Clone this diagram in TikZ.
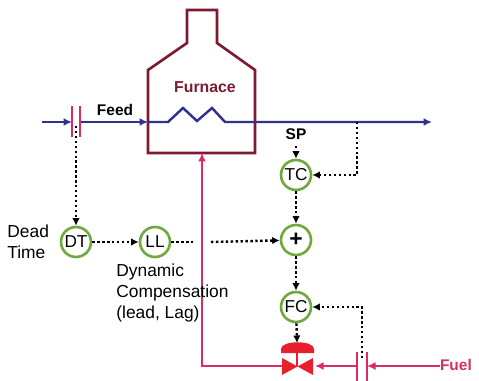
\documentclass[tikz,border=0pt]{standalone}
\usepackage{fontspec}
\setmainfont{Liberation Sans}
\usetikzlibrary{arrows.meta}
\definecolor{feedblue}{HTML}{2E3192}
\definecolor{fuelpink}{HTML}{DC2A66}
\definecolor{valvered}{HTML}{E8202E}
\definecolor{furnacered}{HTML}{7E1A30}
\definecolor{ctrlgreen}{HTML}{72A840}
\def\feedy{122}
\def\fuely{366}
\tikzset{
  ctrl/.style={circle, draw=ctrlgreen, line width=1.5pt, minimum size=0.6cm, inner sep=0pt,
    font=\fontsize{9.8}{11}\selectfont},
  signal/.style={dash pattern=on 1.4pt off 1.4pt, line width=1.4pt, -{Latex[length=1.5mm,width=1.5mm]}},
  feed/.style={feedblue, line width=1.4pt},
  fuel/.style={fuelpink, line width=1.4pt},
  tip/.style={-{Latex[length=1.7mm,width=1.6mm]}},
  plate/.style={fuelpink, line width=1.1pt},
  lbl/.style={font=\bfseries\fontsize{8.8}{10}\selectfont},
  txt/.style={font=\fontsize{9.9}{11.9}\selectfont, align=left, inner sep=0pt}
}
\begin{document}
\begin{tikzpicture}[x=0.02cm, y=-0.02cm]
\useasboundingbox (0,0) rectangle (479,381);

% Furnace
\draw[furnacered, line width=1.5pt] (148,153) -- (148,70) -- (187,43) -- (187,10) -- (217,10)
  -- (217,43) -- (255,70) -- (255,153) -- cycle;
\node[lbl, text=furnacered, font=\bfseries\fontsize{9}{10}\selectfont] (furnace) at (205,87) {Furnace};

% Controllers
\node[ctrl] (TC) at (296,175) {TC};
\node[ctrl, font=\bfseries\fontsize{13}{13}\selectfont] (SUM) at (296,240) {+};
\node[ctrl] (FC) at (296,307) {FC};
\node[ctrl] (DT) at (76,242) {DT};
\node[ctrl] (LL) at (155,242) {LL};

% Control valve
\coordinate (valve) at (297,\fuely);
\coordinate (actuator) at (297,343);
\fill[valvered] (282,358) -- (282,375) -- (313,358) -- (313,375) -- cycle;
\draw[valvered, line width=1.5pt] (valve) -- (297,352);
\fill[valvered] (281,353) -- (281,349) .. controls (281,340) and (314,340) .. (314,349) -- (314,353) -- cycle;

% Feed line
\coordinate (feedin) at (42,\feedy);
\coordinate (orifA) at (72,\feedy);
\coordinate (orifB) at (80,\feedy);
\coordinate (coilin) at (148,\feedy);
\coordinate (feedout) at (432,\feedy);
\draw[feed, tip] (feedin) -- (orifA);
\draw[feed, tip] (orifB) -- (coilin);
\draw[feed, tip] (coilin) -- (168,\feedy) -- (183,108) -- (197,121) -- (212,108) -- (225,\feedy) -- (feedout);
\foreach \px in {72,80} {
    \draw[plate] (\px,106) -- (\px,137); % orifice plate
}
\node[lbl] (feed) at (115,110) {Feed};

% Fuel line
\coordinate (fuelin) at (440,\fuely);
\coordinate (orifC) at (367,\fuely);
\coordinate (orifD) at (357,\fuely);
\coordinate (valveR) at (315,\fuely);
\coordinate (valveL) at (282,\fuely);
\coordinate (fuelcorner) at (202,\fuely);
\coordinate (burner) at (202,153);
\draw[fuel, tip] (fuelin) -- (orifC);
\draw[fuel, tip] (orifD) -- (valveR);
\draw[fuel, tip] (valveL) -- (fuelcorner) -- (burner);
\foreach \px in {357,367} {
    \draw[plate] (\px,352) -- (\px,381); % orifice plate
}
\node[lbl, text=fuelpink, anchor=east] (fuel) at (478,365) {Fuel};

% Signals
\coordinate (FTfeed) at (76,126);
\coordinate (TT) at (357,\feedy);
\coordinate (FTfuel) at (362,358);
\coordinate (gapL) at (193,242);
\coordinate (gapR) at (211,242);
\node[lbl] (SP) at (296,134) {SP};
\draw[signal] (SP) -- (TC);
\draw[signal] (TT) |- (TC);
\draw[signal] (TC) -- (SUM);
\draw[signal] (SUM) -- (FC);
\draw[signal] (FC) -- (actuator);
\draw[signal] (FTfuel) |- (FC);
\draw[signal] (FTfeed) -- (DT);
\draw[signal] (DT) -- (LL);
\draw[signal, -] (LL) -- (gapL);
\draw[signal] (gapR) -- (SUM);

% Labels
\node[txt, anchor=west] (deadtime) at (7,242) {Dead\\Time};
\node[txt, anchor=north west] (dyncomp) at (116,264) {Dynamic\\Compensation\\(lead, Lag)};

\end{tikzpicture}
\end{document}
